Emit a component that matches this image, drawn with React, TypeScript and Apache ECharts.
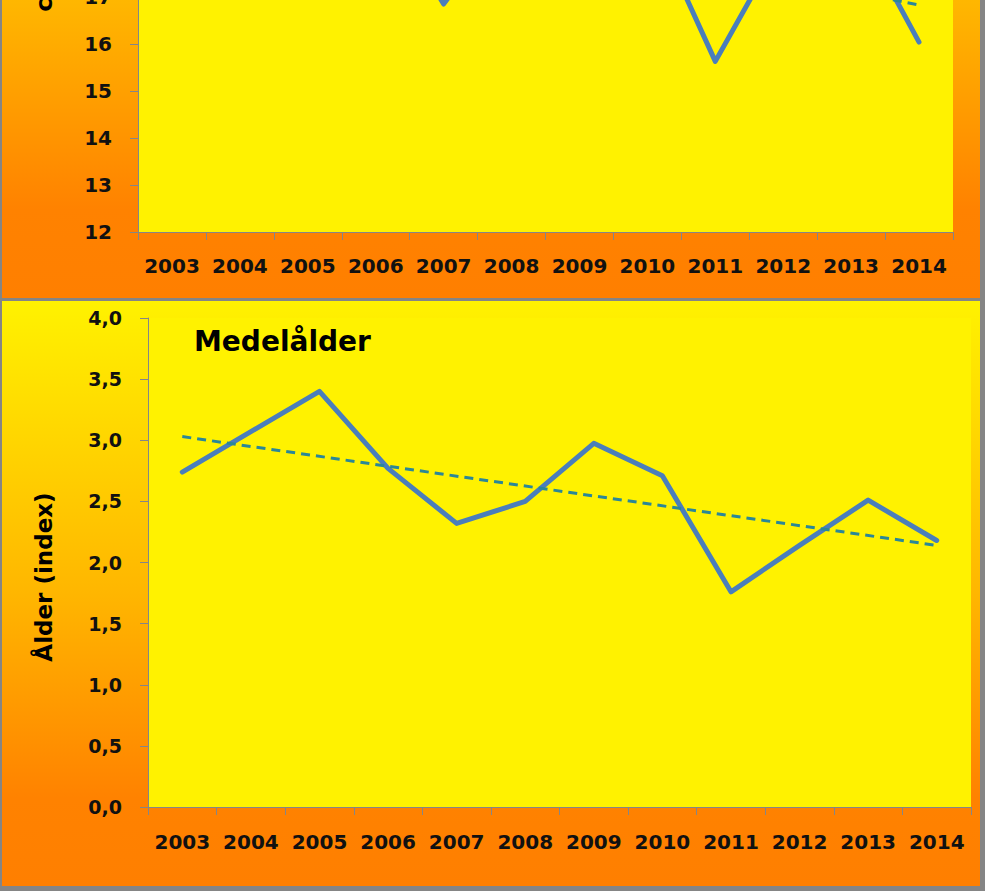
import React, { useEffect, useRef } from "react";
import * as echarts from "echarts";

// ---- data ----
const years = ["2003", "2004", "2005", "2006", "2007", "2008", "2009", "2010", "2011", "2012", "2013", "2014"];
// upper panel (mean length, cm) – mostly above the visible area of the picture
const lengthValues = [20.2, 19.6, 20.4, 19.3, 16.85, 18.8, 18.4, 18.8, 15.63, 18.2, 18.7, 16.04];
const lengthTrendEnds = [19.99, 16.83];
const lengthAxis = { min: 12, max: 22, interval: 1 };
const lengthAxisName = "cm";
// lower panel (mean age, index)
const ageValues = [2.74, 3.07, 3.4, 2.77, 2.32, 2.5, 2.975, 2.71, 1.76, 2.14, 2.51, 2.18];
const ageTrendEnds = [3.03, 2.14];
const ageAxis = { min: 0, max: 4, interval: 0.5 };
const ageAxisName = "Ålder (index)";
const ageTitle = "Medelålder";

const OFFSET = 300; // chart extends above the visible page
const W = 985;
const H = 891 + OFFSET;

const FONT = "DejaVu Sans";
const AXIS_GRAY = "#868686";
const LINE_BLUE = "#4A7EBB";
const TREND = "#2B8797";
const PLOT_YELLOW = "#FFF200";

const panelFill = {
  type: "linear",
  x: 0,
  y: 0,
  x2: 0,
  y2: 1,
  colorStops: [
    { offset: 0, color: "#FFF200" },
    { offset: 0.5, color: "#FFB600" },
    { offset: 0.85, color: "#FF8200" },
    { offset: 1, color: "#FF7F00" },
  ],
};

function xAxisCfg(gridIndex: number, margin: number) {
  return {
    type: "category",
    gridIndex,
    data: years,
    boundaryGap: true,
    axisLine: { show: true, lineStyle: { color: AXIS_GRAY, width: 1 } },
    axisTick: { show: true, length: 8, lineStyle: { color: AXIS_GRAY, width: 1 } },
    axisLabel: {
      margin,
      color: "#111111",
      fontFamily: FONT,
      fontWeight: "bold",
      fontSize: 20,
      interval: 0,
    },
    splitLine: { show: false },
  };
}

export default function App() {
  const ref = useRef<HTMLDivElement>(null);

  useEffect(() => {
    if (!ref.current) return;
    const chart = echarts.init(ref.current, undefined, { renderer: "svg" });
    const option: any = {
      animation: false,
      backgroundColor: "#858585",
      graphic: [
        {
          type: "rect",
          z: -10,
          shape: { x: 2, y: 9, width: 978, height: 589 },
          style: { fill: panelFill },
        },
        {
          type: "rect",
          z: -10,
          shape: { x: 2, y: 601, width: 978, height: 585 },
          style: { fill: panelFill },
        },
        {
          type: "text",
          x: 194,
          y: 641,
          style: {
            text: ageTitle,
            font: `bold 28px "${FONT}"`,
            fill: "#000000",
            textVerticalAlign: "middle",
            textAlign: "left",
          },
        },
        {
          type: "text",
          x: 44,
          y: 877,
          rotation: Math.PI / 2,
          style: {
            text: ageAxisName,
            font: `bold 23px "${FONT}"`,
            fill: "#000000",
            textAlign: "center",
            textVerticalAlign: "middle",
          },
        },
        {
          type: "text",
          x: 44,
          y: OFFSET - 7,
          rotation: Math.PI / 2,
          style: {
            text: lengthAxisName,
            font: `bold 23px "${FONT}"`,
            fill: "#000000",
            textAlign: "center",
            textVerticalAlign: "middle",
          },
        },
      ],
      grid: [
        {
          left: 138,
          top: 62,
          width: 815,
          height: 470,
          show: true,
          backgroundColor: PLOT_YELLOW,
          borderWidth: 0,
        },
        {
          left: 148,
          top: 618,
          width: 823,
          height: 489,
          show: true,
          backgroundColor: PLOT_YELLOW,
          borderWidth: 0,
        },
      ],
      xAxis: [xAxisCfg(0, 24), xAxisCfg(1, 25)],
      yAxis: [
        {
          type: "value",
          gridIndex: 0,
          min: lengthAxis.min,
          max: lengthAxis.max,
          interval: lengthAxis.interval,
          axisLine: { show: true, lineStyle: { color: AXIS_GRAY, width: 1 } },
          axisTick: { show: true, length: 8, lineStyle: { color: AXIS_GRAY } },
          splitLine: { show: false },
          axisLabel: {
            margin: 26,
            color: "#111111",
            fontFamily: FONT,
            fontWeight: "bold",
            fontSize: 20,
            formatter: (v: number) => (v <= 17 ? String(v) : ""),
          },
        },
        {
          type: "value",
          gridIndex: 1,
          min: ageAxis.min,
          max: ageAxis.max,
          interval: ageAxis.interval,
          axisLine: { show: true, lineStyle: { color: AXIS_GRAY, width: 1 } },
          axisTick: { show: true, length: 8, lineStyle: { color: AXIS_GRAY } },
          splitLine: { show: false },
          axisLabel: {
            margin: 26,
            color: "#111111",
            fontFamily: FONT,
            fontWeight: "bold",
            fontSize: 19,
            formatter: (v: number) => v.toFixed(1).replace(".", ","),
          },
        },
      ],
      series: [
        {
          type: "line",
          xAxisIndex: 0,
          yAxisIndex: 0,
          data: lengthValues,
          symbol: "none",
          clip: true,
          lineStyle: { color: LINE_BLUE, width: 5, cap: "round", join: "round" },
        },
        {
          type: "line",
          xAxisIndex: 0,
          yAxisIndex: 0,
          data: [
            [0, lengthTrendEnds[0]],
            [years.length - 1, lengthTrendEnds[1]],
          ],
          symbol: "none",
          clip: true,
          lineStyle: { color: TREND, width: 3, type: [9, 6] },
        },
        {
          type: "line",
          xAxisIndex: 1,
          yAxisIndex: 1,
          data: ageValues,
          symbol: "none",
          clip: true,
          lineStyle: { color: LINE_BLUE, width: 5, cap: "round", join: "round" },
        },
        {
          type: "line",
          xAxisIndex: 1,
          yAxisIndex: 1,
          data: [
            [0, ageTrendEnds[0]],
            [years.length - 1, ageTrendEnds[1]],
          ],
          symbol: "none",
          clip: true,
          lineStyle: { color: TREND, width: 3, type: [9, 6] },
        },
      ],
    };
    chart.setOption(option);
    return () => chart.dispose();
  }, []);

  return (
    <div
      ref={ref}
      style={{ position: "absolute", left: 0, top: -OFFSET, width: W, height: H }}
    />
  );
}
